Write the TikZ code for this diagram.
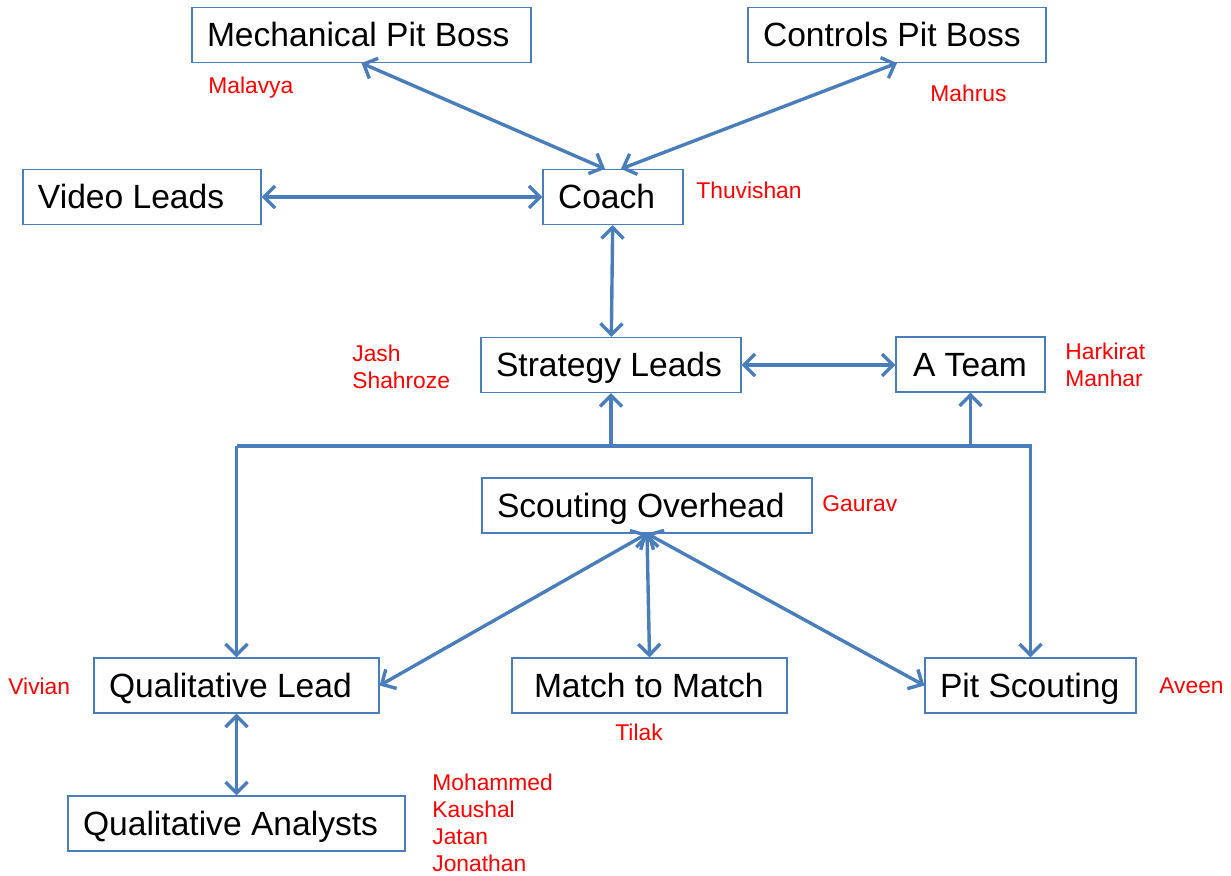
\documentclass[tikz,border=0pt]{standalone}
\usepackage{fontspec}
\setmainfont{Liberation Sans}
\usetikzlibrary{arrows.meta}

\definecolor{linkblue}{RGB}{74,126,187}

\tikzset{
  role/.style={draw=linkblue, line width=0.6pt, minimum height=27.5pt,
    inner ysep=0pt, inner xsep=7.5pt, align=flush left,
    text height=12pt, text depth=0pt,
    font=\fontsize{16.8}{19}\selectfont},
  who/.style={text=red, align=left, inner sep=0pt,
    font=\fontsize{11.4}{13.5}\selectfont},
  link/.style={draw=linkblue, line width=1.7pt},
  >={Straight Barb[length=5.5pt,width=11pt,line width=1.7pt]}
}

\begin{document}
\begin{tikzpicture}[x=0.5pt, y=-0.5pt]
    \useasboundingbox (0,0) rectangle (1231,876);

    % boxes
    \node[role, text width=154.5pt] (mech) at (361.5,35) {\mbox{Mechanical Pit Boss}};
    \node[role, text width=134pt] (ctrl) at (897,35) {\mbox{Controls Pit Boss}};
    \node[role, text width=104pt] (video) at (142,197) {\mbox{Video Leads}};
    \node[role, text width=55pt] (coach) at (613,197) {Coach};
    \node[role, text width=115pt] (strat) at (611,365) {\mbox{Strategy Leads}};
    \node[role, inner xsep=8.5pt, text width=57.5pt] (ateam) at (970.5,364.5) {\mbox{A Team}};
    \node[role, text width=150pt] (scout) at (647,505.5) {\mbox{Scouting Overhead}};
    \node[role, text width=127.5pt] (qlead) at (236.5,685.5) {\mbox{Qualitative Lead}};
    \node[role, inner xsep=11pt, text width=115.5pt] (match) at (649.5,685.5) {\mbox{Match to Match}};
    \node[role, text width=90.5pt] (pit) at (1030.5,685.5) {\mbox{Pit Scouting}};
    \node[role, text width=153.5pt] (qana) at (236.5,823.5) {\mbox{Qualitative Analysts}};

    % names
    \node[who, anchor=west] (malavya) at (208,88) {Malavya};
    \node[who, anchor=west] (mahrus) at (930,93) {Mahrus};
    \node[who, anchor=west] (thuv) at (696,190) {Thuvishan};
    \node[who, anchor=west] (jash) at (352,367) {Jash\\Shahroze};
    \node[who, anchor=west] (hark) at (1065,365) {Harkirat\\Manhar};
    \node[who, anchor=west] (gaurav) at (822,504) {Gaurav};
    \node[who, anchor=west] (vivian) at (8,686) {Vivian};
    \node[who, anchor=west] (tilak) at (615,732) {Tilak};
    \node[who, anchor=west] (aveen) at (1159,686) {Aveen};
    \node[who, anchor=west] (analysts) at (432,823) {Mohammed\\Kaushal\\Jatan\\Jonathan};

    % links
    \draw[link, <->] (mech.south) -- ([xshift=-4pt]coach.north);
    \draw[link, <->] (ctrl.south) -- ([xshift=4pt]coach.north);
    \draw[link, <->] (video) -- (coach);
    \draw[link, <->] (coach) -- (strat);
    \draw[link, <->] (strat) -- (ateam.west |- strat);

    \coordinate (bus) at (0,446);
    \draw[link, ->] (qlead.north |- bus) -- (pit.north |- bus) -- (pit.north);
    \draw[link, ->] (qlead.north |- bus) -- (qlead.north);
    \draw[link, ->] (strat.south |- bus) -- (strat.south);
    \draw[link, ->] (ateam.south |- bus) -- (ateam.south);

    \draw[link, <->] (scout.south) -- (qlead.east);
    \draw[link, <->] (scout.south) -- (match.north);
    \draw[link, <->] (scout.south) -- (pit.west);
    \draw[link, <->] (qlead) -- (qana);
\end{tikzpicture}
\end{document}
